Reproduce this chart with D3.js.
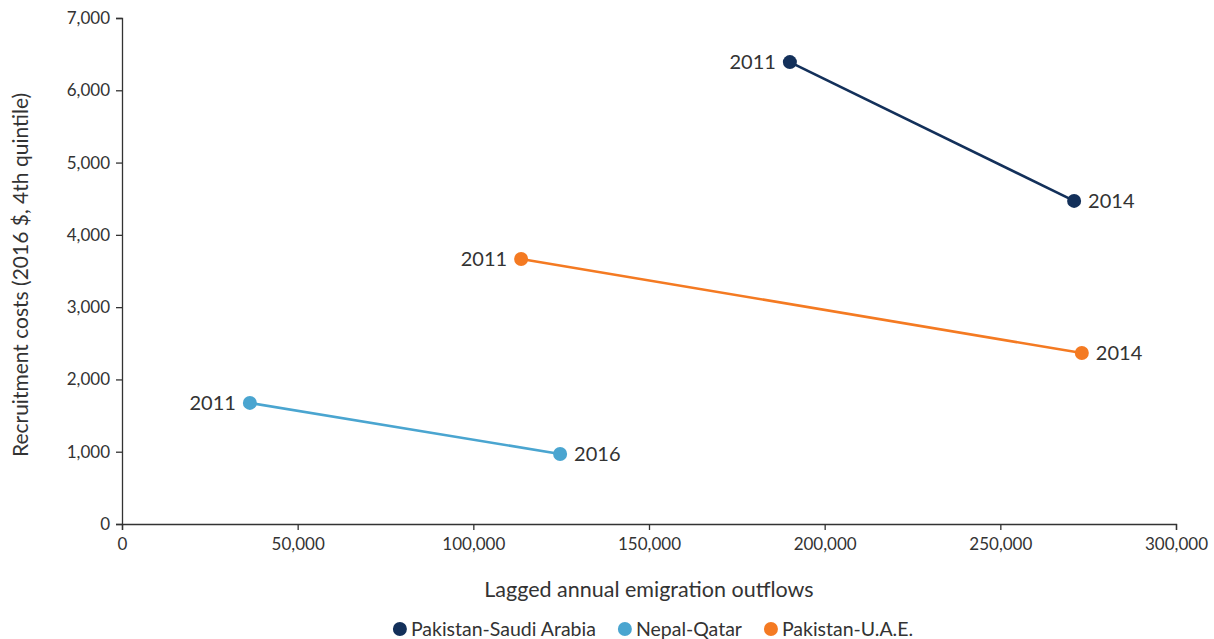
<!DOCTYPE html>
<html><head><meta charset="utf-8">
<script src="https://cdn.jsdelivr.net/npm/d3@7"></script>
<style>body{margin:0;background:#fff;} text{font-family:Lato,"Open Sans",sans-serif;fill:#333;}</style>
</head><body>
<svg id="c" width="1214" height="639"></svg>
<script>
const seriesNames = ["Pakistan-Saudi Arabia", "Nepal-Qatar", "Pakistan-U.A.E."];
const seriesColors = ["#13305a", "#4aa5d0", "#f47a22"];
const years = [["2011","2014"],["2011","2016"],["2011","2014"]];
const xValues = [[190100, 271000],[36400, 124700],[113600, 273200]];
const yValues = [[6390, 4470],[1675, 968],[3665, 2365]];
const xTicks = [0,50000,100000,150000,200000,250000,300000];
const yTicks = [0,1000,2000,3000,4000,5000,6000,7000];

const svg = d3.select("#c");
const m = {l:122, t:18, r:38, b:115};
const W = 1214, H = 639;
const x = d3.scaleLinear().domain([0,300000]).range([m.l, W-m.r]);
const y = d3.scaleLinear().domain([0,7000]).range([H-m.b, m.t]);
const fmt = d3.format(",");

const xa = svg.append("g").attr("transform",`translate(0,${H-m.b})`)
  .call(d3.axisBottom(x).tickValues(xTicks).tickFormat(fmt).tickSizeOuter(0).tickSize(6).tickPadding(8));
const ya = svg.append("g").attr("transform",`translate(${m.l},0)`)
  .call(d3.axisLeft(y).tickValues(yTicks).tickFormat(fmt).tickSizeOuter(0).tickSize(6).tickPadding(6));
[xa,ya].forEach(a=>{
  a.selectAll("path,line").attr("stroke","#333").attr("stroke-width",1.3);
  a.selectAll("text").attr("font-size",17).attr("fill","#444").style("font-family","Lato,sans-serif");
});

svg.append("text").attr("x",(m.l+W-m.r)/2).attr("y",597).attr("text-anchor","middle")
  .attr("font-size",21.5).text("Lagged annual emigration outflows");
svg.append("text").attr("transform",`translate(28,${(m.t+H-m.b)/2 + 4}) rotate(-90)`).attr("text-anchor","middle")
  .attr("font-size",21).text("Recruitment costs (2016 $, 4th quintile)");

seriesNames.forEach((name,i)=>{
  const pts = xValues[i].map((xv,j)=>({x:xv,y:yValues[i][j],yr:years[i][j]}));
  svg.append("path").datum(pts)
    .attr("d", d3.line().x(d=>x(d.x)).y(d=>y(d.y)))
    .attr("fill","none").attr("stroke",seriesColors[i]).attr("stroke-width",2.6);
  svg.selectAll(null).data(pts).enter().append("circle")
    .attr("cx",d=>x(d.x)).attr("cy",d=>y(d.y)).attr("r",7).attr("fill",seriesColors[i]);
  svg.selectAll(null).data(pts).enter().append("text")
    .attr("x",(d,j)=> j===0 ? x(d.x)-14 : x(d.x)+14)
    .attr("y",d=>y(d.y)).attr("dy","0.35em")
    .attr("text-anchor",(d,j)=> j===0?"end":"start")
    .attr("font-size",20).text(d=>d.yr);
});

// legend
const lg = svg.append("g");
let items = [];
seriesNames.forEach((n,i)=>{
  const g = lg.append("g");
  g.append("circle").attr("cx",0).attr("cy",0).attr("r",7).attr("fill",seriesColors[i]);
  const t = g.append("text").attr("x",11).attr("y",0).attr("dy","0.35em").attr("font-size",19.5).text(n);
  const w = 11 + t.node().getComputedTextLength();
  items.push({g,w});
});
const gap = 22;
const total = items.reduce((s,it)=>s+it.w+7,0) + gap*(items.length-1);
let pos = 653 - total/2 + 7;
items.forEach(it=>{ it.g.attr("transform",`translate(${pos},629)`); pos += it.w + 7 + gap; });
</script>
</body></html>
